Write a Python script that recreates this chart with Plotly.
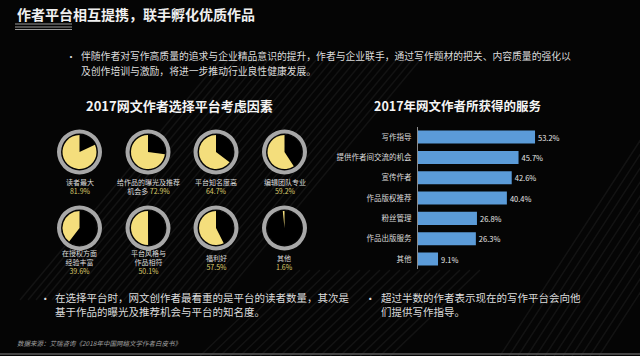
import plotly.graph_objects as go

W, H = 640, 356
FONT = "Noto Sans CJK SC"

# ---------------- data ----------------
page_title = "作者平台相互提携，联手孵化优质作品"
top_lines = ["伴随作者对写作高质量的追求与企业精品意识的提升，作者与企业联手，通过写作题材的把关、内容质量的强化以",
             "及创作培训与激励，将进一步推动行业良性健康发展。"]
left_title = "2017网文作者选择平台考虑因素"
right_title = "2017年网文作者所获得的服务"

factor_names = ["读者最大", "给作品的曝光及推荐<br>机会多", "平台知名度高", "编辑团队专业",
                "在授权方面<br>经验丰富", "平台风格与<br>作品相符", "福利好", "其他"]
factor_values = [81.9, 72.9, 64.7, 59.2, 39.6, 50.1, 57.5, 1.6]
factor_pct_inline = [False, True, False, False, False, False, False, False]

service_names = ["写作指导", "提供作者间交流的机会", "宣传作者", "作品版权推荐", "粉丝管理", "作品出版服务", "其他"]
service_values = [53.2, 45.7, 42.6, 40.4, 26.8, 26.3, 9.1]

bottom_left_lines = ["在选择平台时，网文创作者最看重的是平台的读者数量，其次是",
                     "基于作品的曝光及推荐机会与平台的知名度。"]
bottom_right_lines = ["超过半数的作者表示现在的写作平台会向他",
                      "们提供写作指导。"]
source_text = "数据来源：艾瑞咨询《2018年中国网络文学作者白皮书》"

# ---------------- helpers ----------------
def px(x):
    return x / W


def py(y):
    return 1 - y / H


YELLOW = "#f4de7c"
PCT = "#dccb6a"
RING = "#a8a8a8"
BAR = "#5b9bd8"
TXT = "#dcdcdc"

fig = go.Figure()

# ---------------- pies ----------------
col_x = [79.5, 148, 216, 284.5]
row_y = [152, 228]
R_RING, R_PIE = 22.5, 17
annotations = []
for i, (name, v) in enumerate(zip(factor_names, factor_values)):
    cx = col_x[i % 4]
    cy = row_y[i // 4]
    fig.add_trace(go.Pie(values=[1], hole=0.82, sort=False,
                         marker=dict(colors=[RING], line=dict(width=0)),
                         domain=dict(x=[px(cx - R_RING), px(cx + R_RING)],
                                     y=[py(cy + R_RING), py(cy - R_RING)]),
                         textinfo="none", hoverinfo="skip", showlegend=False))
    fig.add_trace(go.Pie(values=[100 - v, v], sort=False, direction="clockwise", rotation=0,
                         marker=dict(colors=["#000000", YELLOW], line=dict(width=0)),
                         domain=dict(x=[px(cx - R_PIE), px(cx + R_PIE)],
                                     y=[py(cy + R_PIE), py(cy - R_PIE)]),
                         textinfo="none", hoverinfo="skip", showlegend=False))
    sep = "&nbsp;" if factor_pct_inline[i] else "<br>"
    label = f"{name}{sep}<span style='color:{PCT}'>{v}%</span>"
    annotations.append(dict(x=px(cx), y=py(cy + 34), xref="paper", yref="paper",
                            text=label, showarrow=False, xanchor="center", yanchor="middle",
                            font=dict(family=FONT, size=7, color=TXT), align="center"))

# ---------------- bars ----------------
fig.add_trace(go.Bar(y=service_names, x=service_values, orientation="h",
                     marker=dict(color=BAR, line=dict(width=0)),
                     text=[f"{v}%" for v in service_values], textposition="outside",
                     textfont=dict(family=FONT, size=7.5, color="#e8e8e8"),
                     cliponaxis=False, constraintext="none", showlegend=False,
                     hoverinfo="skip"))

fig.update_layout(
    xaxis=dict(domain=[px(418), px(418 + 60 * 2.2)], range=[0, 60], visible=False),
    yaxis=dict(domain=[py(269.2), py(126.9)], autorange="reversed",
               showline=True, linecolor="#8c8c8c", linewidth=1, showgrid=False,
               zeroline=False, ticks="outside", ticklen=4, tickcolor="rgba(0,0,0,0)",
               tickfont=dict(family=FONT, size=7.5, color=TXT)),
    bargap=0.36,
)

# ---------------- texts ----------------
annotations += [
    dict(x=px(15), y=py(14), text=f"<b>{page_title}</b>", xanchor="left", yanchor="middle",
         font=dict(family=FONT, size=14, color="#f0f0f0")),
    dict(x=px(71), y=py(56.5), text="•", xanchor="center", yanchor="middle",
         font=dict(family=FONT, size=10, color=TXT)),
    dict(x=px(80), y=py(56.5), text=top_lines[0], xanchor="left", yanchor="middle",
         borderpad=0, font=dict(family=FONT, size=9.8, color=TXT)),
    dict(x=px(80), y=py(70.5), text=top_lines[1], xanchor="left", yanchor="middle",
         borderpad=0, font=dict(family=FONT, size=9.8, color=TXT)),
    dict(x=px(179), y=py(105), text=f"<b>{left_title}</b>", xanchor="center", yanchor="middle",
         font=dict(family=FONT, size=13, color="#f4f4f4")),
    dict(x=px(457.5), y=py(105), text=f"<b>{right_title}</b>", xanchor="center", yanchor="middle",
         font=dict(family=FONT, size=12.5, color="#f4f4f4")),
    dict(x=px(45), y=py(298), text="•", xanchor="center", yanchor="middle",
         font=dict(family=FONT, size=10.5, color=TXT)),
    dict(x=px(54), y=py(304.5), text="<br>".join(bottom_left_lines), xanchor="left",
         yanchor="middle", align="left", borderpad=0,
         font=dict(family=FONT, size=10.5, color=TXT)),
    dict(x=px(370), y=py(298), text="•", xanchor="center", yanchor="middle",
         font=dict(family=FONT, size=10.5, color=TXT)),
    dict(x=px(380), y=py(304.5), text="<br>".join(bottom_right_lines), xanchor="left",
         yanchor="middle", align="left", borderpad=0,
         font=dict(family=FONT, size=10.5, color=TXT)),
    dict(x=px(15), y=py(343), text=f"<i>{source_text}</i>", xanchor="left", yanchor="middle",
         font=dict(family=FONT, size=6.5, color="#a0a0a0")),
]
for a in annotations:
    a.setdefault("xref", "paper")
    a.setdefault("yref", "paper")
    a.setdefault("showarrow", False)

# ---------------- decorative shapes ----------------
shapes = []
for yy in (24, 27, 29.5):
    shapes.append(dict(type="line", xref="paper", yref="paper", x0=px(15), x1=px(72),
                       y0=py(yy), y1=py(yy), line=dict(color="#9a9a9a", width=1)))
shapes.append(dict(type="line", xref="paper", yref="paper", x0=0, x1=1,
                   y0=py(354), y1=py(354), line=dict(color="#5a5a5a", width=1.5)))
stripe = "rgba(255,255,255,0.06)"
for k in range(26):
    x0 = 20 + 8 * k
    shapes.append(dict(type="line", xref="paper", yref="paper", layer="below",
                       x0=px(x0), y0=py(300), x1=px(x0 + 200), y1=py(60),
                       line=dict(color=stripe, width=1.5)))
for k in range(12):
    x0 = 500 + 9 * k
    shapes.append(dict(type="line", xref="paper", yref="paper", layer="below",
                       x0=px(x0), y0=py(356), x1=px(x0 + 160), y1=py(110),
                       line=dict(color=stripe, width=1.5)))
for k in range(20):
    x0 = 200 + 10 * k
    shapes.append(dict(type="line", xref="paper", yref="paper", layer="below",
                       x0=px(x0), y0=py(356), x1=px(x0 + 90), y1=py(270),
                       line=dict(color=stripe, width=1.5)))

fig.update_layout(
    width=W, height=H, margin=dict(l=0, r=0, t=0, b=0),
    paper_bgcolor="#050505", plot_bgcolor="rgba(0,0,0,0)",
    annotations=annotations, shapes=shapes, showlegend=False,
)

fig.write_html("out.html")
